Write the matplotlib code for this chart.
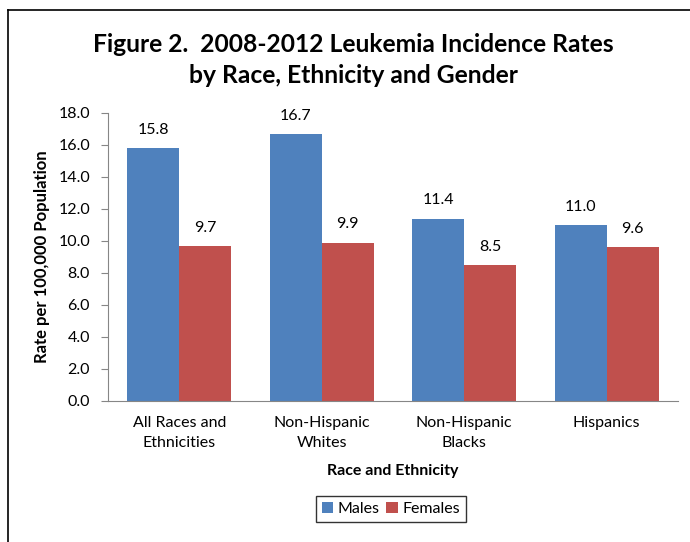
import matplotlib
matplotlib.use("Agg")
import matplotlib.pyplot as plt
from matplotlib.lines import Line2D
import numpy as np

categories = ["All Races and\nEthnicities", "Non-Hispanic\nWhites", "Non-Hispanic\nBlacks", "Hispanics"]
males = [15.8, 16.7, 11.4, 11.0]
females = [9.7, 9.9, 8.5, 9.6]
yticks = [0, 2, 4, 6, 8, 10, 12, 14, 16, 18]

plt.rcParams['font.family'] = ['Lato', 'DejaVu Sans']

W, H = 690, 542
fig = plt.figure(figsize=(W/100, H/100), dpi=100)
fig.patch.set_facecolor('white')

# outer frame (top and left visible)
fig.add_artist(Line2D([8/W, 1.0], [1-10/H, 1-10/H], color='black', lw=1.2, transform=fig.transFigure))
fig.add_artist(Line2D([8/W, 8/W], [0, 1-10/H], color='black', lw=1.2, transform=fig.transFigure))

ax = fig.add_axes([108/W, 1-401/H, (678-108)/W, (401-113)/H])
x = np.arange(len(categories))
bw = 0.365
bm = ax.bar(x - bw/2, males, bw, color='#4F81BD', label='Males')
bf = ax.bar(x + bw/2, females, bw, color='#C0504D', label='Females')

for rects, vals in ((bm, males), (bf, females)):
    for r, v in zip(rects, vals):
        ax.annotate(f"{v:.1f}", (r.get_x() + r.get_width()/2, v), xytext=(0, 8),
                    textcoords='offset points', ha='center', va='bottom', fontsize=11.5)

ax.set_xlim(-0.5, len(categories) - 0.5)
ax.set_ylim(0, 18)
ax.set_yticks(yticks)
ax.set_yticklabels([f"{t:.1f}" for t in yticks], fontsize=11.5)
ax.set_xticks(x)
ax.set_xticklabels(categories, fontsize=11.5, linespacing=1.55)
ax.tick_params(axis='x', length=0, pad=11)
ax.tick_params(axis='y', direction='out', length=5, color='#868686', pad=8)
for s in ('top', 'right'):
    ax.spines[s].set_visible(False)
for s in ('left', 'bottom'):
    ax.spines[s].set_color('#868686')
ax.set_ylabel("Rate per 100,000 Population", fontsize=12, fontweight='bold', labelpad=6)
ax.set_xlabel("Race and Ethnicity", fontsize=11.5, fontweight='bold', labelpad=10)

fig.text(353/W, 1-60/H, "Figure 2.  2008-2012 Leukemia Incidence Rates\nby Race, Ethnicity and Gender",
         ha='center', va='center', fontsize=17.7, fontweight='bold', linespacing=1.45)

leg = fig.legend(handles=[bm, bf], labels=['Males', 'Females'], loc='center',
                 bbox_to_anchor=(391/W, 1-509/H), ncol=2, fontsize=11.5, frameon=True,
                 fancybox=False, edgecolor='black', handlelength=0.7, handleheight=0.7,
                 handletextpad=0.3, columnspacing=0.4, borderpad=0.4)
leg.get_frame().set_linewidth(1.0)

fig.savefig("out.png", dpi=100)
